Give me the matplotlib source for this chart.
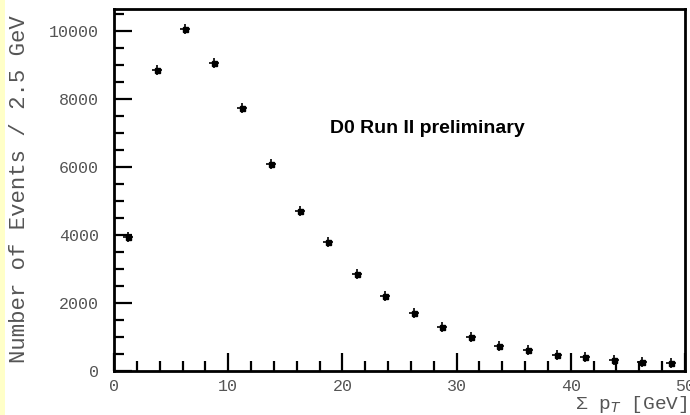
import matplotlib
matplotlib.use("Agg")
import matplotlib.pyplot as plt
from matplotlib.ticker import MultipleLocator
from matplotlib.patches import Rectangle

# Sum pT spectrum in 2.5 GeV bins
bin_centers = [1.25, 3.75, 6.25, 8.75, 11.25, 13.75, 16.25, 18.75, 21.25, 23.75,
               26.25, 28.75, 31.25, 33.75, 36.25, 38.75, 41.25, 43.75, 46.25, 48.75]
events = [3940, 8850, 10080, 9060, 7750, 6100, 4720, 3800, 2850, 2210,
          1700, 1300, 990, 750, 615, 460, 420, 325, 275, 245]

x_ticks = [0, 10, 20, 30, 40, 50]
y_ticks = [0, 2000, 4000, 6000, 8000, 10000]

W, H = 690, 415
fig = plt.figure(figsize=(W / 100, H / 100), dpi=100)
fig.patch.set_facecolor("white")

# pale yellow strip along the left edge
fig.patches.append(Rectangle((0, 0), 5 / W, 1, transform=fig.transFigure,
                             facecolor="#FFFFC8", edgecolor="none", zorder=0))

ax = fig.add_axes([114 / W, (H - 371) / H, (685 - 114) / W, (371 - 9.5) / H])
ax.set_xlim(0, 50)
ax.set_ylim(0, 10640)

ax.plot(bin_centers, events, linestyle="none", marker="+", markersize=6.5,
        markeredgewidth=1.2, color="black")
ax.plot(bin_centers, events, linestyle="none", marker="s", markersize=3.6,
        color="black")

for sp in ax.spines.values():
    sp.set_linewidth(2.0)
    sp.set_color("black")

ax.set_xticks(x_ticks)
ax.set_yticks(y_ticks)
ax.xaxis.set_minor_locator(MultipleLocator(2))
ax.yaxis.set_minor_locator(MultipleLocator(500))
ax.tick_params(which="both", direction="in", top=False, right=False,
               width=1.6, color="black")
ax.tick_params(which="major", length=13)
ax.tick_params(which="minor", length=7.5)
ax.tick_params(axis="y", which="major", pad=11)
ax.tick_params(axis="x", which="major", pad=6)

mono = "Liberation Mono"
grey = "#555555"
for lbl in ax.get_xticklabels() + ax.get_yticklabels():
    lbl.set_fontfamily(mono)
    lbl.set_fontsize(12)
    lbl.set_color(grey)

fig.text(20 / W, (H - 189) / H, "Number of Events / 2.5 GeV", rotation=90,
         ha="center", va="center", fontfamily=mono, fontsize=16, color=grey)
fig.text(688 / W, 0, "Σ p$_T$ [GeV]", ha="right", va="bottom",
         fontfamily=mono, fontsize=14, color=grey)

ax.text(0.378, 0.67, "D0 Run II preliminary", transform=ax.transAxes,
        ha="left", va="center", fontfamily="Liberation Sans",
        fontweight="bold", fontsize=14, color="black")

fig.savefig("out.png", dpi=100)
